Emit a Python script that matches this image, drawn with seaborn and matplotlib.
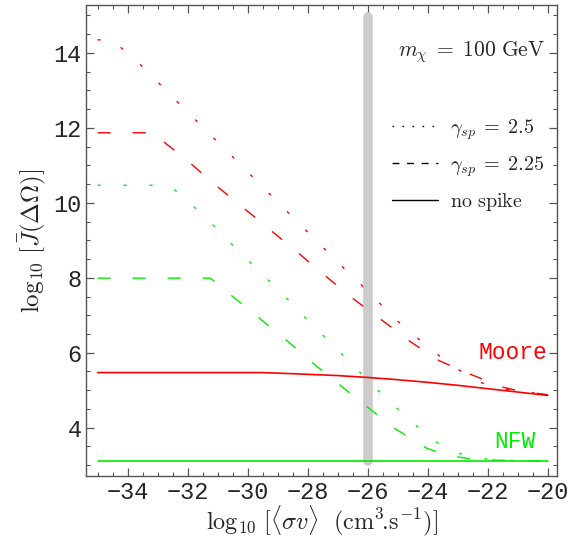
import numpy as np
import pandas as pd
import matplotlib
matplotlib.use("Agg")
import matplotlib.pyplot as plt
from matplotlib.lines import Line2D
import seaborn as sns

# --- data ---
moore_x = [-35, -29.5, -28.5, -27, -26, -25, -24, -23, -22, -21, -20]
moore_y = [5.47, 5.47, 5.44, 5.39, 5.34, 5.28, 5.21, 5.13, 5.04, 4.95, 4.86]

nfw_x = [-35, -20]
nfw_y = [3.11, 3.11]

moore_g25_x = [-35, -34.5, -34.22, -33.59, -32.98, -32.37, -31.76, -31.15, -30.53,
               -29.92, -29.31, -28.70, -28.09, -27.5, -26.89, -26.26, -25.64,
               -25.04, -24.4, -23.74, -23.03, -22.4, -21.8, -21.2, -20.6, -20]
moore_g25_y = [14.35, 14.35, 14.14, 13.70, 13.21, 12.72, 12.23, 11.74, 11.25,
               10.76, 10.27, 9.78, 9.29, 8.82, 8.33, 7.85, 7.35,
               6.87, 6.43, 5.99, 5.58, 5.25, 5.09, 5.00, 4.94, 4.88]

moore_g225_x = [-35, -33.15, -32.78, -31.87, -30.99, -30.07, -29.16, -28.25, -27.35,
                -26.45, -25.51, -24.57, -23.6, -22.5, -21.5, -21.0, -20.5, -20]
moore_g225_y = [11.87, 11.87, 11.62, 11.03, 10.42, 9.82, 9.22, 8.62, 8.01,
                7.42, 6.86, 6.29, 5.78, 5.40, 5.08, 4.99, 4.93, 4.88]

nfw_g25_x = [-35, -32.7, -32.45, -31.81, -31.18, -30.57, -29.98, -29.35, -28.73,
             -28.15, -27.53, -26.92, -26.31, -25.7, -25.09, -24.45, -23.79,
             -23.06, -22.5, -21.8, -21.0, -20]
nfw_g25_y = [10.47, 10.47, 10.36, 9.91, 9.43, 8.93, 8.46, 7.97, 7.48,
             6.99, 6.50, 6.01, 5.52, 5.03, 4.57, 4.10, 3.65,
             3.34, 3.21, 3.14, 3.12, 3.11]

nfw_g225_x = [-35, -31.24, -30.53, -29.61, -28.7, -27.81, -26.9, -25.98, -25.06,
              -24.06, -23.68, -23.0, -22.5, -22.0, -21.0, -20]
nfw_g225_y = [7.99, 7.99, 7.52, 6.92, 6.33, 5.71, 5.12, 4.53, 3.96,
              3.46, 3.35, 3.22, 3.16, 3.14, 3.12, 3.11]

band_x = -26
band_lo, band_hi = 3.1, 14.95

RED = "#ff0000"
GREEN = "#00ee00"
DOT = (0, (2.2, 16.5))
DASH = (0, (9.4, 15.8))

sns.set_style("ticks")
plt.rcParams["font.family"] = ["Liberation Mono", "DejaVu Sans"]
plt.rcParams["mathtext.fontset"] = "cm"

fig = plt.figure(figsize=(5.69, 5.37), dpi=100)
ax = fig.add_axes([0.152, 0.1136, 0.827, 0.8771])

ax.plot([band_x, band_x], [band_lo, band_hi], color="#cccccc", lw=7,
        solid_capstyle="round", zorder=1)

series = [
    (moore_x, moore_y, RED, "-", 1.2),
    (nfw_x, nfw_y, GREEN, "-", 1.2),
    (moore_g25_x, moore_g25_y, RED, DOT, 1.0),
    (moore_g225_x, moore_g225_y, RED, DASH, 1.0),
    (nfw_g25_x, nfw_g25_y, GREEN, DOT, 1.0),
    (nfw_g225_x, nfw_g225_y, GREEN, DASH, 1.0),
]
for xs, ys, col, ls, lw in series:
    df = pd.DataFrame({"x": xs, "y": ys})
    sns.lineplot(data=df, x="x", y="y", color=col, linestyle=ls, lw=lw,
                 estimator=None, sort=False, ax=ax, zorder=2)

ax.set_xlim(-35.37, -19.69)
ax.set_ylim(2.71, 15.28)
ax.set_xticks(np.arange(-34, -19, 2))
ax.set_yticks(np.arange(4, 15, 2))
ax.set_xticks(np.arange(-35, -19.9, 0.5), minor=True)
ax.set_yticks(np.arange(3, 15.1, 0.5), minor=True)
ax.tick_params(which="both", direction="in", top=True, right=True,
               labelsize=17, color="#555555")
ax.tick_params(which="major", length=6, width=0.9)
ax.tick_params(which="minor", length=3, width=0.8)
for sp in ax.spines.values():
    sp.set_color("#555555")
    sp.set_linewidth(1.0)

ax.set_xlabel(r"$\log_{10}\,[\langle\sigma v\rangle\ \ (\mathrm{cm}^3\!.\!\mathrm{s}^{-1})]$",
              fontsize=17.5, labelpad=0)
ax.set_ylabel(r"$\log_{10}\,[\bar{J}(\Delta\Omega)]$", fontsize=18)

ax.text(-20.0, 6.0, "Moore", color=RED, fontsize=16.5, ha="right", va="center")
ax.text(-20.42, 3.63, "NFW", color=GREEN, fontsize=16.5, ha="right", va="center")

ax.text(0.975, 0.9, r"$m_\chi\;=\;100\ \mathrm{GeV}$", transform=ax.transAxes,
        fontsize=15.5, ha="right", va="center")

handles = [
    Line2D([], [], color="black", lw=1.0, linestyle=(0, (1.2, 6))),
    Line2D([], [], color="black", lw=1.0, linestyle=(0, (5, 5.5))),
    Line2D([], [], color="black", lw=1.0, linestyle="-"),
]
labels = [r"$\gamma_{sp}\;=\;2.5$", r"$\gamma_{sp}\;=\;2.25$", r"$\mathrm{no\ spike}$"]
ax.legend(handles, labels, loc="upper right", bbox_to_anchor=(1.012, 0.8),
          frameon=False, fontsize=14.5, handlelength=2.3, labelspacing=0.6,
          handletextpad=0.6)

fig.savefig("out.png", dpi=100)
